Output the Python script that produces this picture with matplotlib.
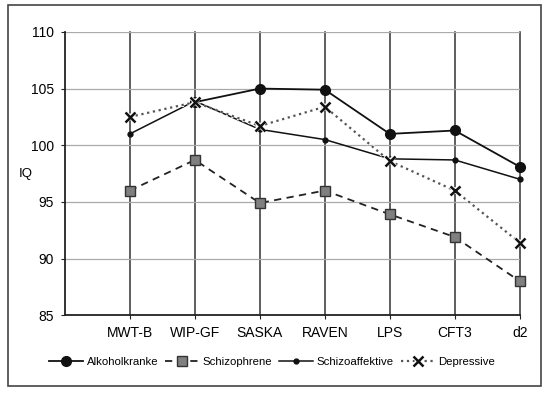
import numpy as np
import matplotlib
matplotlib.use("Agg")
import matplotlib.pyplot as plt
import matplotlib.patheffects as pe
from matplotlib.patches import Rectangle

categories = ["MWT-B", "WIP-GF", "SASKA", "RAVEN", "LPS", "CFT3", "d2"]
alkoholkranke = [np.nan, 103.8, 105.0, 104.9, 101.0, 101.3, 98.1]
schizophrene = [96.0, 98.7, 94.9, 96.0, 93.9, 91.9, 88.0]
schizoaffektive = [101.0, 103.9, 101.4, 100.5, 98.8, 98.7, 97.0]
depressive = [102.5, 103.8, 101.7, 103.4, 98.6, 96.0, 91.4]
yticks = [85, 90, 95, 100, 105, 110]

plt.rcParams['font.family'] = ['Liberation Sans', 'DejaVu Sans']
fig = plt.figure(figsize=(5.5, 3.94), dpi=100)
ax = fig.add_axes([0.118, 0.2, 0.827, 0.719])
x = np.arange(1, len(categories) + 1)

ax.set_xlim(0, 7)
ax.set_ylim(85, 110)
ax.set_yticks(yticks)
ax.set_xticks(x)
ax.set_xticklabels(categories)
ax.tick_params(axis='both', labelsize=10, length=3, color='#222222', pad=5)
ax.grid(axis='y', color='#aaaaaa', lw=0.9)
for xi in x:
    ax.axvline(xi, color='#333333', lw=1.1, zorder=1, clip_on=False)
for s in ['top', 'right']:
    ax.spines[s].set_visible(False)
for s in ['left', 'bottom']:
    ax.spines[s].set_linewidth(1.3)
    ax.spines[s].set_color('#222222')
fig.text(26/550, 1-174/394, "IQ", fontsize=9.5, ha='center', va='center')

l1, = ax.plot(x, alkoholkranke, '-', color='#111111', lw=1.3, marker='o', ms=7,
              mfc='#111111', mec='#111111', zorder=3, label='Alkoholkranke', clip_on=False)
l2, = ax.plot(x, schizophrene, '--', color='#222222', lw=1.3, dashes=(4, 3), marker='s', ms=6.5,
              mfc='#808080', mec='#333333', zorder=3, label='Schizophrene', clip_on=False)
l3, = ax.plot(x, schizoaffektive, '-', color='#111111', lw=1.1, marker='o', ms=3.5,
              mfc='#111111', mec='#111111', zorder=4, label='Schizoaffektive', clip_on=False)
l4, = ax.plot(x, depressive, ':', color='#555555', lw=1.6, marker='x', ms=7, mew=1.8,
              mfc='#111111', mec='#111111', zorder=5, label='Depressive', clip_on=False,
              path_effects=[pe.Stroke(linewidth=3, foreground='white'), pe.Normal()])

leg = fig.legend(handles=[l1, l2, l3, l4], loc='center', bbox_to_anchor=(0.495, 0.081),
                 ncol=4, frameon=False, fontsize=8.2, handlelength=3.0, handletextpad=0.3,
                 columnspacing=0.6)

fig.patches.append(Rectangle((8/550, 1-386/394), 533/550, 381/394, transform=fig.transFigure,
                             fill=False, edgecolor='#444444', lw=1.2))
fig.savefig("out.png", dpi=100)
